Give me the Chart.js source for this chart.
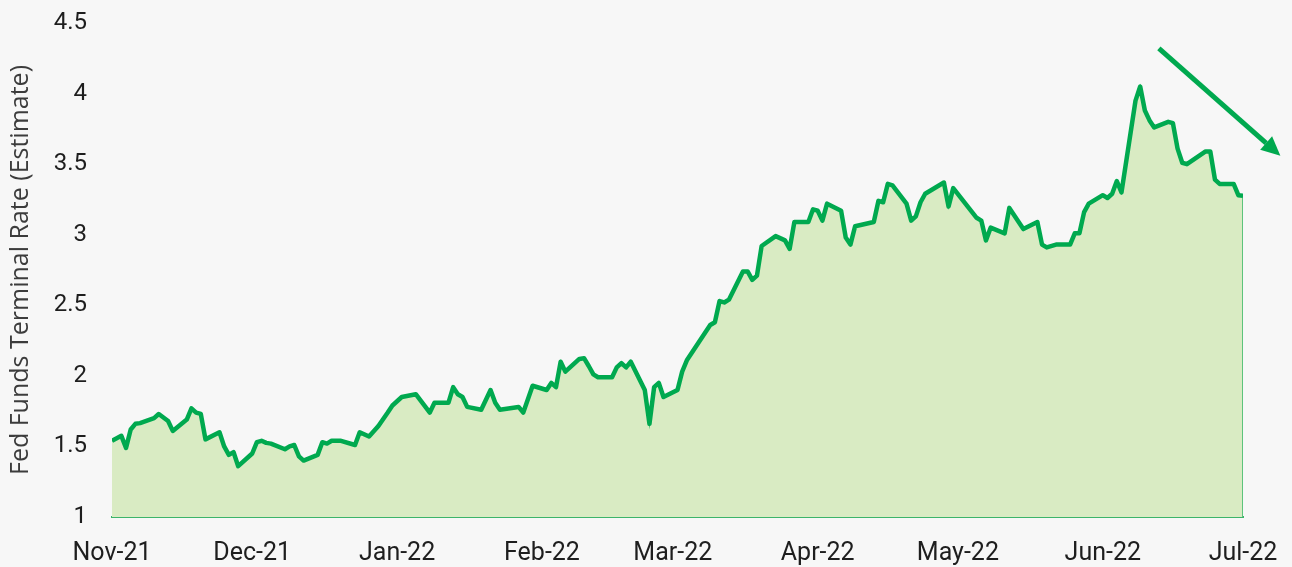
<!DOCTYPE html>
<html>
<head>
<meta charset="utf-8">
<script src="https://cdn.jsdelivr.net/npm/chart.js@4/dist/chart.umd.min.js"></script>
<style>
  html, body { margin: 0; padding: 0; background: #f7f7f7; }
  #wrap { width: 1292px; height: 567px; }
</style>
</head>
<body>
<div id="wrap"><canvas id="terminalRate" width="1292" height="567"></canvas></div>
<script>
const ctx = 'terminalRate';

// fed funds terminal rate estimate
var dates = [
  "2021-11-01","2021-11-03","2021-11-04","2021-11-05","2021-11-06","2021-11-07","2021-11-10","2021-11-11",
  "2021-11-13","2021-11-14","2021-11-17","2021-11-18","2021-11-19","2021-11-20","2021-11-21","2021-11-24",
  "2021-11-25","2021-11-26","2021-11-27","2021-11-28","2021-12-01","2021-12-02","2021-12-03","2021-12-04",
  "2021-12-05","2021-12-08","2021-12-09","2021-12-10","2021-12-11","2021-12-12","2021-12-15","2021-12-16",
  "2021-12-17","2021-12-18","2021-12-20","2021-12-23","2021-12-24","2021-12-26","2021-12-28","2021-12-30",
  "2021-12-31","2022-01-02","2022-01-05","2022-01-08","2022-01-09","2022-01-12","2022-01-13","2022-01-14",
  "2022-01-15","2022-01-16","2022-01-19","2022-01-21","2022-01-22","2022-01-23","2022-01-27","2022-01-28",
  "2022-01-30","2022-02-02","2022-02-03","2022-02-04","2022-02-05","2022-02-06","2022-02-09","2022-02-10",
  "2022-02-11","2022-02-12","2022-02-13","2022-02-16","2022-02-17","2022-02-18","2022-02-19","2022-02-20",
  "2022-02-23","2022-02-24","2022-02-25","2022-02-26","2022-02-27","2022-03-02","2022-03-03","2022-03-04",
  "2022-03-09","2022-03-10","2022-03-11","2022-03-12","2022-03-13","2022-03-16","2022-03-17","2022-03-18",
  "2022-03-19","2022-03-20","2022-03-23","2022-03-25","2022-03-26","2022-03-27","2022-03-30","2022-03-31",
  "2022-04-01","2022-04-02","2022-04-03","2022-04-06","2022-04-07","2022-04-08","2022-04-09","2022-04-13",
  "2022-04-14","2022-04-15","2022-04-16","2022-04-17","2022-04-20","2022-04-21","2022-04-22","2022-04-23",
  "2022-04-24","2022-04-28","2022-04-29","2022-04-30","2022-05-05","2022-05-06","2022-05-07","2022-05-08",
  "2022-05-11","2022-05-12","2022-05-15","2022-05-18","2022-05-19","2022-05-20","2022-05-22","2022-05-25",
  "2022-05-26","2022-05-27","2022-05-28","2022-05-29","2022-06-01","2022-06-02","2022-06-03","2022-06-04",
  "2022-06-05","2022-06-08","2022-06-09","2022-06-10","2022-06-11","2022-06-12","2022-06-15","2022-06-16",
  "2022-06-17","2022-06-18","2022-06-19","2022-06-23","2022-06-24","2022-06-25","2022-06-26","2022-06-29",
  "2022-06-30","2022-07-01"
];
var rates = [
  1.54, 1.575, 1.49, 1.62, 1.66, 1.665, 1.70, 1.73,
  1.68, 1.61, 1.69, 1.77, 1.74, 1.73, 1.55, 1.60,
  1.50, 1.44, 1.46, 1.36, 1.45, 1.53, 1.54, 1.525,
  1.52, 1.48, 1.50, 1.51, 1.43, 1.40, 1.44, 1.53,
  1.52, 1.54, 1.54, 1.51, 1.60, 1.57, 1.645, 1.74,
  1.79, 1.85, 1.87, 1.74, 1.81, 1.81, 1.92, 1.87,
  1.85, 1.78, 1.76, 1.90, 1.81, 1.76, 1.78, 1.74,
  1.93, 1.90, 1.95, 1.92, 2.10, 2.03, 2.12, 2.125,
  2.07, 2.01, 1.99, 1.99, 2.06, 2.09, 2.06, 2.10,
  1.90, 1.66, 1.92, 1.95, 1.85, 1.90, 2.03, 2.11,
  2.36, 2.38, 2.53, 2.52, 2.54, 2.74, 2.74, 2.68,
  2.71, 2.92, 2.99, 2.96, 2.90, 3.09, 3.09, 3.18,
  3.17, 3.10, 3.22, 3.17, 2.98, 2.93, 3.06, 3.09,
  3.24, 3.23, 3.36, 3.35, 3.22, 3.10, 3.13, 3.23,
  3.29, 3.37, 3.20, 3.33, 3.12, 3.10, 2.96, 3.05,
  3.01, 3.19, 3.04, 3.09, 2.93, 2.91, 2.93, 2.93,
  3.01, 3.01, 3.16, 3.22, 3.28, 3.26, 3.29, 3.38,
  3.30, 3.95, 4.05, 3.88, 3.81, 3.76, 3.80, 3.79,
  3.61, 3.51, 3.50, 3.59, 3.59, 3.39, 3.36, 3.36,
  3.28, 3.275
];
var monthTicks = ["2021-11-01","2021-12-01","2022-01-01","2022-02-01","2022-03-01",
                  "2022-04-01","2022-05-01","2022-06-01","2022-07-01"];
var yMin = 1, yMax = 4.5, yStep = 0.5;
var trendArrow = { from: ["2022-06-13", 4.32], to: ["2022-07-09", 3.56] };

const green = '#00a94f';
const monNames = ['Jan','Feb','Mar','Apr','May','Jun','Jul','Aug','Sep','Oct','Nov','Dec'];
const t0 = Date.UTC(2021, 10, 1);

function dayNum(s) {
  const p = s.split('-');
  return (Date.UTC(+p[0], +p[1] - 1, +p[2]) - t0) / 864e5;
}

const points = dates.map((d, i) => ({ x: dayNum(d), y: rates[i] }));
const lastDay = points[points.length - 1].x;

const tickLabels = {};
monthTicks.forEach(d => {
  const p = d.split('-');
  tickLabels[dayNum(d)] = monNames[+p[1] - 1] + '-' + p[0].slice(2);
});

// the downward trend arrow in the top right corner
const arrowPlugin = {
  id: 'trendArrow',
  afterDatasetsDraw(chart) {
    const xs = chart.scales.x, ys = chart.scales.y, c = chart.ctx;
    const x1 = xs.getPixelForValue(dayNum(trendArrow.from[0])), y1 = ys.getPixelForValue(trendArrow.from[1]);
    const x2 = xs.getPixelForValue(dayNum(trendArrow.to[0])), y2 = ys.getPixelForValue(trendArrow.to[1]);
    const a = Math.atan2(y2 - y1, x2 - x1);
    const head = 19, half = 9;
    const bx = x2 - head * Math.cos(a), by = y2 - head * Math.sin(a);
    c.save();
    c.strokeStyle = green;
    c.fillStyle = green;
    c.lineWidth = 5;
    c.beginPath();
    c.moveTo(x1, y1);
    c.lineTo(bx, by);
    c.stroke();
    c.beginPath();
    c.moveTo(x2, y2);
    c.lineTo(bx + half * Math.sin(a), by - half * Math.cos(a));
    c.lineTo(bx - half * Math.sin(a), by + half * Math.cos(a));
    c.closePath();
    c.fill();
    c.restore();
  }
};

const rateChart = new Chart(ctx, {
  type: 'line',
  data: {
    datasets: [{
      label: 'Fed Funds Terminal Rate',
      data: points,
      borderColor: green,
      borderWidth: 4.5,
      borderJoinStyle: 'round',
      pointRadius: 0,
      fill: false
    }, {
      label: 'area',
      data: points.concat([{ x: lastDay, y: yMin }]),
      borderColor: '#35b866',
      borderWidth: 1.5,
      backgroundColor: '#d9ebc3',
      pointRadius: 0,
      fill: 'start'
    }]
  },
  options: {
    responsive: false,
    animation: false,
    layout: { padding: { top: 23, right: 49, left: 0, bottom: 0 } },
    plugins: {
      legend: { display: false },
      tooltip: { enabled: false }
    },
    scales: {
      x: {
        type: 'linear',
        min: dayNum(monthTicks[0]),
        max: dayNum(monthTicks[monthTicks.length - 1]),
        afterBuildTicks: (scale) => { scale.ticks = monthTicks.map(d => ({ value: dayNum(d) })); },
        afterFit: (scale) => { scale.height = 50; scale.paddingLeft = 0; scale.paddingRight = 0; },
        grid: { display: false, drawTicks: false },
        border: { display: true, color: '#3cb46a', width: 2 },
        ticks: {
          autoSkip: false,
          maxRotation: 0,
          padding: 22,
          color: '#1e1e1e',
          font: { family: 'Roboto', size: 25 },
          callback: (v) => tickLabels[v]
        }
      },
      y: {
        min: yMin,
        max: yMax,
        afterFit: (scale) => { scale.width = 112; scale.paddingTop = 0; scale.paddingBottom = 0; },
        grid: { display: false, drawTicks: false },
        border: { display: false },
        ticks: {
          stepSize: yStep,
          padding: 25,
          color: '#1e1e1e',
          font: { family: 'Roboto', size: 24 },
          callback: (v) => String(+v.toFixed(1))
        },
        title: {
          display: true,
          text: 'Fed Funds Terminal Rate (Estimate)',
          color: '#3c3c3c',
          padding: { top: 6, bottom: 0 },
          font: { family: 'Open Sans', size: 25 }
        }
      }
    }
  },
  plugins: [arrowPlugin]
});
</script>
</body>
</html>
